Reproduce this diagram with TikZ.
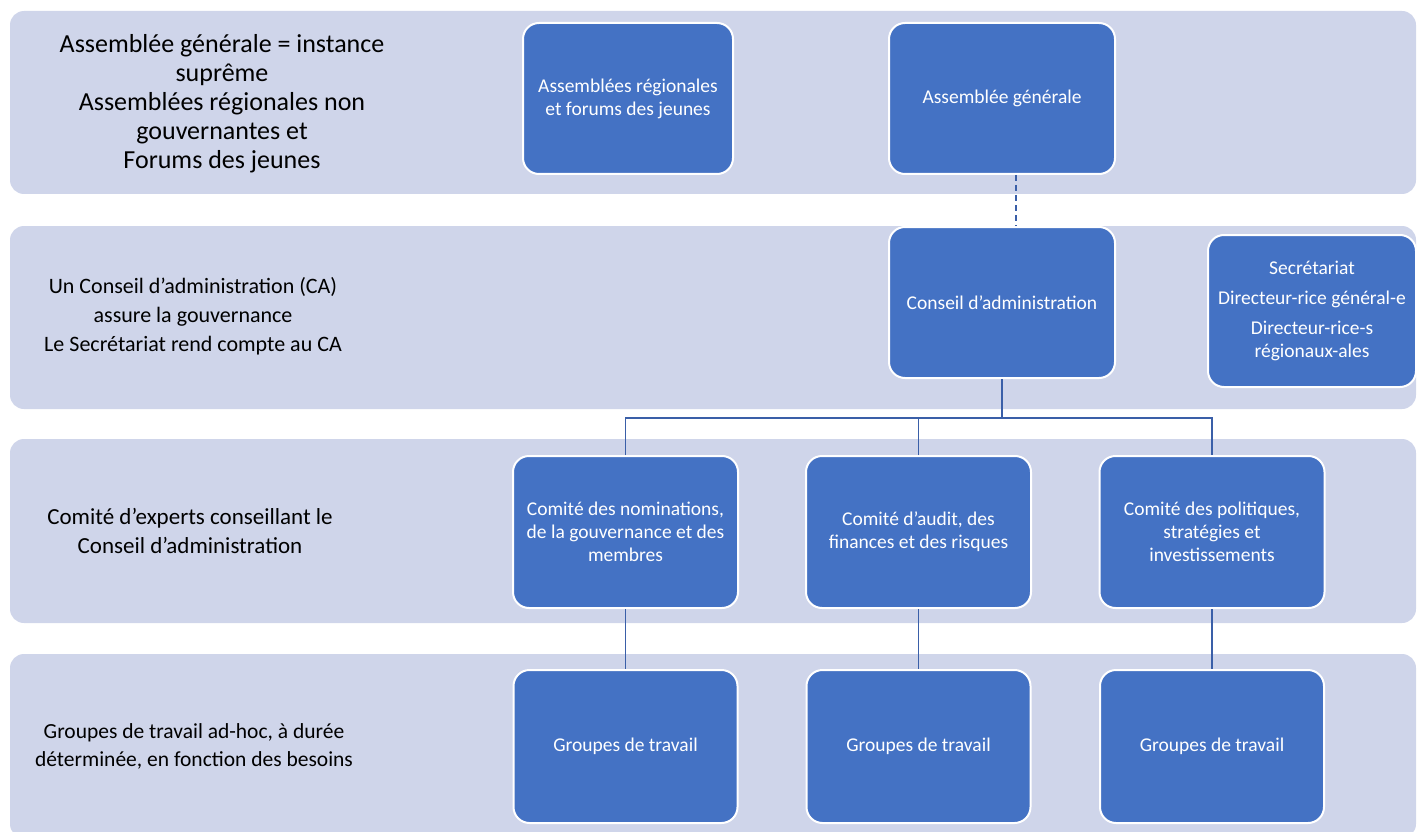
\documentclass[tikz,border=0pt]{standalone}
\usepackage{fontspec}
\setmainfont{Carlito}
\definecolor{bandfill}{HTML}{CFD5EA}
\definecolor{boxblue}{HTML}{4472C4}
\definecolor{linkblue}{HTML}{3A5FA8}
\begin{document}
\begin{tikzpicture}[x=1pt,y=-1pt,
  band/.style={fill=bandfill, rounded corners=14pt},
  unit/.style={draw=white, line width=2pt, fill=boxblue, rounded corners=16pt,
    text=white, align=center, inner sep=0pt,
    font=\fontsize{19.5}{23}\selectfont},
  level/.style={align=center, text=black, font=\fontsize{22}{29}\selectfont},
  link/.style={draw=linkblue, line width=1.8pt}]

% Fix the frame of the picture
\useasboundingbox (0,0) rectangle (1417,832);

% Draw the four background bands
\fill[band] (10,11) rectangle (1416,194);
\fill[band] (10,226) rectangle (1416,409);
\fill[band] (10,439) rectangle (1416,623);
\fill[band] (10,654) rectangle (1416,838);

% Label the bands
\node[level, font=\fontsize{26}{29}\selectfont] (lab1) at (222,104) {Assemblée générale = instance\\suprême\\Assemblées régionales non\\gouvernantes et\\Forums des jeunes};
\node[level] (lab2) at (193,316) {Un Conseil d’administration (CA)\\assure la gouvernance\\Le Secrétariat rend compte au CA};
\node[level, font=\fontsize{23}{29}\selectfont] (lab3) at (190,531) {Comité d’experts conseillant le\\Conseil d’administration};
\node[level, font=\fontsize{21.5}{28}\selectfont] (lab4) at (194,746) {Groupes de travail ad-hoc, à durée\\déterminée, en fonction des besoins};

% Assemblies
\node[unit, minimum width=210, minimum height=151] (AR) at (628,98.5) {Assemblées régionales\\et forums des jeunes};
\node[unit, minimum width=226, minimum height=151] (AG) at (1002,98.5) {Assemblée générale};

% Board and secretariat
\node[unit, minimum width=226, minimum height=151] (CA) at (1002,302.5) {Conseil d’administration};
\node[unit, minimum width=208, minimum height=152] (SEC) at (1312,311) {Secrétariat\\[7pt]Directeur-rice général-e\\[7pt]Directeur-rice-s\\régionaux-ales};

% Committees
\node[unit, minimum width=225, minimum height=152] (C1) at (625.5,532) {Comité des nominations,\\de la gouvernance et des\\membres};
\node[unit, minimum width=225, minimum height=152] (C2) at (918.5,532) {Comité d’audit, des\\finances et des risques};
\node[unit, minimum width=225, minimum height=152] (C3) at (1212,532) {Comité des politiques,\\stratégies et\\investissements};

% Working groups
\foreach \i/\x in {1/625.5, 2/918.5, 3/1212}
  \node[unit, minimum width=224, minimum height=153] (G\i) at (\x,746.5) {Groupes de travail};

% Dashed link between the general assembly and the board
\draw[link, dash pattern=on 6pt off 4pt] ([xshift=14pt]AG.south) -- ([xshift=14pt]CA.north);

% Tree from the board to the committees
\coordinate (bus) at (0,418);
\draw[link] (CA.south) -- (CA.south |- bus);
\draw[link] (C1.north) -- (C1.north |- bus) -- (C3.north |- bus) -- (C3.north);
\draw[link] (C2.north) -- (C2.north |- bus);

% Committees to working groups
\foreach \i in {1,2,3}
  \draw[link] (C\i.south) -- (G\i.north);

\end{tikzpicture}
\end{document}
